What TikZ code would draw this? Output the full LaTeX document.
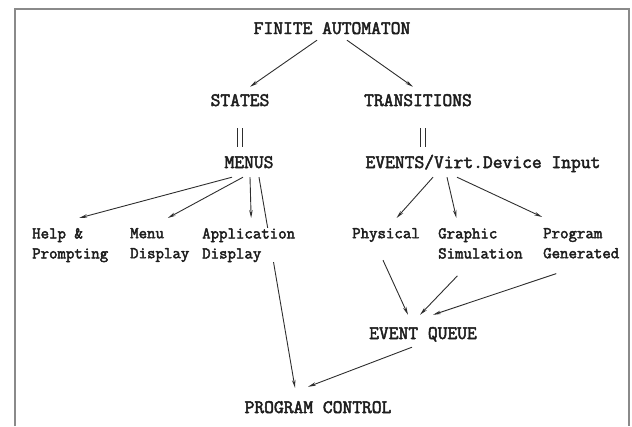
\documentclass[tikz,border=0pt]{standalone}
\usepackage{fontspec}
\setmonofont{Latin Modern Mono}[AutoFakeBold=2.6]
\usepackage{xcolor}
\usepackage{tikz}
\usetikzlibrary{arrows.meta,positioning,backgrounds}
\definecolor{inkgrey}{HTML}{2E2E2E}
\definecolor{textgrey}{HTML}{1E1E1E}
\definecolor{framegrey}{HTML}{8A8A8A}

\begin{document}
\begin{tikzpicture}[
  x=1pt,y=-1pt,
  big/.style={font=\ttfamily\bfseries\fontsize{19}{22}\selectfont,text=textgrey,
              inner sep=2pt,text height=12pt,text depth=0pt},
  small/.style={font=\ttfamily\bfseries\fontsize{16.4}{20}\selectfont,text=textgrey,
                inner sep=0pt,align=left,anchor=north west,fill=white},
  arrow/.style={-{Stealth[length=8pt,width=3.5pt]},draw=inkgrey,line width=0.9pt},
  equal/.style={draw=inkgrey,double=white,double distance=4pt,line width=1.3pt},
]
\useasboundingbox (0,0) rectangle (632,426);
\draw[framegrey,line width=1.6pt] (15,426) -- (15,9) -- (629,9) -- (629,426);

\node[big] (fa)      at (332,28)  {FINITE AUTOMATON};
\node[big] (states)  at (240,100) {STATES};
\node[big] (trans)   at (418,100) {TRANSITIONS};
\node[big] (menus)   at (249,162) {MENUS};
\node[big] (events)  at (483,162) {EVENTS/Virt.Device Input};
\node[big] (queue)   at (423,333) {EVENT QUEUE};
\node[big] (control) at (318,407) {PROGRAM CONTROL};

\node[small] (help)  at (32,228)  {Help \&\\Prompting};
\node[small] (mdisp) at (130,228) {Menu\\Display};
\node[small] (adisp) at (202,228) {Application\\Display};
\node[small] (phys)  at (352,228) {Physical};
\node[small] (graph) at (438,228) {Graphic\\Simulation};
\node[small] (pgen)  at (543,228) {Program\\Generated};

\begin{scope}[on background layer]
\draw[arrow] ([shift={(-15pt,-4pt)}]fa.south) -- ([shift={(10pt,5pt)}]states.north);
\draw[arrow] ([shift={(15pt,-4pt)}]fa.south) -- ([shift={(-5pt,5pt)}]trans.north);

\draw[equal,shorten <=20pt,shorten >=7pt] (states.south) -- (states.south |- menus.north);
\draw[equal,shorten <=20pt,shorten >=7pt] ([xshift=5pt]trans.south) -- ([xshift=5pt]trans.south |- events.north);

\draw[arrow] ([shift={(-17pt,-7pt)}]menus.south) -- ([shift={(9pt,10pt)}]help.north);
\draw[arrow] ([shift={(-6pt,-7pt)}]menus.south) -- ([shift={(8pt,10pt)}]mdisp.north);
\draw[arrow] ([shift={(1pt,-7pt)}]menus.south) -- ([shift={(2.5pt,10pt)}]adisp.north);
\draw[arrow] ([shift={(10pt,-7pt)}]menus.south) -- ([shift={(-23pt,11pt)}]control.north);

\draw[arrow] ([shift={(-50pt,-7pt)}]events.south) -- ([shift={(10.6pt,10pt)}]phys.north);
\draw[arrow] ([shift={(-36pt,-7pt)}]events.south) -- ([shift={(-24pt,10pt)}]graph.north);
\draw[arrow] ([shift={(-26pt,-7pt)}]events.south) -- ([shift={(-39pt,11pt)}]pgen.north);

\draw[arrow] ([shift={(-3pt,-18pt)}]phys.south) -- ([shift={(-15pt,10pt)}]queue.north);
\draw[arrow] ([shift={(-23pt,-17pt)}]graph.south) -- ([shift={(-3pt,10pt)}]queue.north);
\draw[arrow] ([shift={(-25pt,-15pt)}]pgen.south) -- ([shift={(10pt,10pt)}]queue.north);

\draw[arrow] ([shift={(-11pt,-6pt)}]queue.south) -- ([shift={(-10pt,12pt)}]control.north);
\end{scope}
\end{tikzpicture}
\end{document}
